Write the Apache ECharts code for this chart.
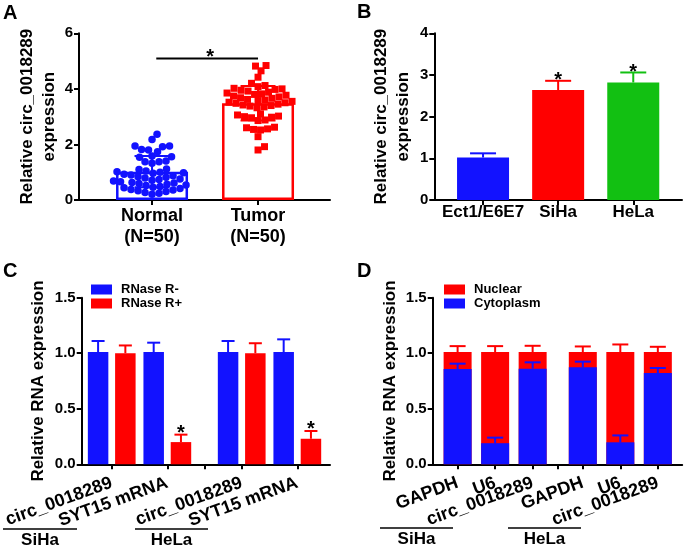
<!DOCTYPE html>
<html><head><meta charset="utf-8">
<script src="https://cdn.jsdelivr.net/npm/echarts@6/dist/echarts.min.js"></script>
<style>html,body{margin:0;padding:0;background:#fff}#c{width:685px;height:547px}</style>
</head><body><div id="c"></div>
<script>
// ---------------- DATA ----------------
// Panel A
const aCategories = ['Normal\n(N=50)', 'Tumor\n(N=50)'];
const aNormal = [0.21, 0.24, 0.27, 0.31, 0.33, 0.36, 0.38, 0.41, 0.44, 0.46, 0.49, 0.52, 0.54, 0.57, 0.59,
  0.61, 0.63, 0.66, 0.68, 0.71, 0.74, 0.76, 0.79, 0.82, 0.84, 0.87, 0.90, 0.93, 0.96, 0.98, 1.00, 1.02,
  1.04, 1.10, 1.12, 1.32, 1.38, 1.38, 1.40, 1.54, 1.56, 1.58, 1.74, 1.80, 1.82, 1.92, 1.94, 1.94, 2.18, 2.37];
const aTumor = [4.84, 4.82, 4.65, 4.42, 4.20, 4.12, 4.08, 4.02, 4.00, 3.98, 3.95, 3.92, 3.88, 3.85, 3.82,
  3.80, 3.77, 3.74, 3.71, 3.68, 3.66, 3.62, 3.60, 3.58, 3.55, 3.52, 3.50, 3.48, 3.45, 3.42, 3.40, 3.38,
  3.35, 3.32, 3.10, 3.06, 3.02, 3.00, 2.98, 2.96, 2.88, 2.86, 2.62, 2.60, 2.56, 2.54, 2.52, 2.28, 1.92, 1.80];
const aMean = [1.02, 3.48];
const aSD = [0.56, 0.62];
const aSig = { from: 0, to: 1, y: 5.09 };
const aYTicks = { min: 0, max: 6, interval: 2 };
// Panel B
const bCategories = ['Ect1/E6E7', 'SiHa', 'HeLa'];
const bValues = [1.02, 2.64, 2.82];
const bErr = [0.10, 0.22, 0.24];
const bSig = [0, 1, 1];
const bYTicks = { min: 0, max: 4, interval: 1 };
// Panel C
const cCategories = ['circ_0018289', 'SYT15 mRNA', 'circ_0018289', 'SYT15 mRNA'];
const cGroups = ['SiHa', 'HeLa'];
const cSeries = ['RNase R-', 'RNase R+'];
const cMinus = [1.01, 1.01, 1.01, 1.01];
const cMinusErr = [0.10, 0.085, 0.10, 0.115];
const cPlus = [1.00, 0.20, 1.00, 0.23];
const cPlusErr = [0.07, 0.067, 0.09, 0.07];
const cSig = [0, 1, 0, 1];
// Panel D
const dCategories = ['GAPDH', 'U6', 'circ_0018289', 'GAPDH', 'U6', 'circ_0018289'];
const dGroups = ['SiHa', 'HeLa'];
const dSeries = ['Nuclear', 'Cytoplasm'];
const dCyto = [0.858, 0.19, 0.861, 0.873, 0.198, 0.822];
const dCytoErr = [0.048, 0.05, 0.057, 0.051, 0.062, 0.045];
const dNuclear = [0.152, 0.82, 0.149, 0.137, 0.812, 0.188];
const dNucErr = [0.054, 0.054, 0.057, 0.051, 0.069, 0.048];
const cdYTicks = { min: 0, max: 1.5, interval: 0.5 };

// ---------------- STYLE / LAYOUT ----------------
const FONT = "'Liberation Sans', Arial, Helvetica, sans-serif";
const BLUE = '#1212ff', RED = '#ff0000', GREEN = '#12c012';
const W = 685, H = 547;
const grids = [
  { left: 79, right: 355, top: 33.3, bottom: 347 },
  { left: 434.3, right: 2, top: 33.3, bottom: 347 },
  { left: 81.7, right: 355, top: 297.7, bottom: 82.7 },
  { left: 432.7, right: 2, top: 297.7, bottom: 82.7 }
];
const xExt = [[-0.689, 1.679], [-0.649, 2.649], [-0.54, 3.926], [-0.664, 5.986]];

const aPos = aCategories.map((_, i) => i);
const bPos = bCategories.map((_, i) => i);
const cPos = cCategories.map((_, i) => i + Math.floor(i / 2) * 0.338);
const dPos = dCategories.map((_, i) => i + Math.floor(i / 3) * 0.337);
const cTicks = cPos.slice(0, 2).concat([(cPos[1] + cPos[2]) / 2], cPos.slice(2));
const dTicks = dPos.slice(0, 3).concat([(dPos[2] + dPos[3]) / 2], dPos.slice(3));
const dTotal = dCyto.map((v, i) => v + dNuclear[i]);

// beeswarm layout for panel A (pixel-space collision avoidance)
const gA = grids[0];
const pxX = (W - gA.left - gA.right) / (xExt[0][1] - xExt[0][0]);
const pxY = (H - gA.top - gA.bottom) / (aYTicks.max - aYTicks.min);
function swarm(values, center, sep) {
  const sorted = values.slice().sort((a, b) => a - b);
  const placed = [];
  sorted.forEach(v => {
    const y = v * pxY;
    let off = 0;
    for (let k = 0; k < 400; k++) {
      const o = (k % 2 === 1 ? 1 : -1) * Math.ceil(k / 2) * 0.5;
      if (placed.every(q => (q.x - o) * (q.x - o) + (q.y - y) * (q.y - y) >= sep * sep)) { off = o; break; }
    }
    placed.push({ x: off, y: y, v: v });
  });
  return placed.map(p => [center + p.x / pxX, p.v]);
}

// label values padded with empty end labels so no real label is auto-hidden
function padEnds(gi, pos) { return [xExt[gi][0]].concat(pos, [xExt[gi][1]]); }
function labelFor(pos, cats) {
  return function (v) {
    let best = 0;
    pos.forEach((p, i) => { if (Math.abs(p - v) < Math.abs(pos[best] - v)) best = i; });
    return Math.abs(pos[best] - v) < 0.05 ? cats[best] : '';
  };
}
const txt = { color: '#000', fontWeight: 'bold', fontFamily: FONT };
function xAxis(gi, tickVals, labelVals, fmt, extra) {
  return {
    type: 'value', gridIndex: gi, min: xExt[gi][0], max: xExt[gi][1], splitLine: { show: false },
    axisLine: { show: true, onZero: false, lineStyle: { color: '#000', width: 2 } },
    axisTick: { show: true, customValues: tickVals, length: 5, lineStyle: { color: '#000', width: 2 } },
    axisLabel: Object.assign({ customValues: padEnds(gi, labelVals), formatter: fmt, fontSize: 17, hideOverlap: false }, txt, extra)
  };
}
function yAxis(gi, t, name, gap, lh, dec) {
  return {
    type: 'value', gridIndex: gi, min: t.min, max: t.max, interval: t.interval, splitLine: { show: false },
    axisLine: { show: true, onZero: false, lineStyle: { color: '#000', width: 2 } },
    axisTick: { show: true, length: 5, lineStyle: { color: '#000', width: 2 } },
    axisLabel: Object.assign({ fontSize: 15, margin: 6, formatter: v => v.toFixed(dec) }, txt),
    name: name, nameLocation: 'middle', nameGap: gap,
    nameTextStyle: Object.assign({ fontSize: 17, lineHeight: lh }, txt)
  };
}
function errSeries(gi, data, opts) {
  return {
    type: 'custom', xAxisIndex: gi, yAxisIndex: gi, z: 6, silent: true,
    encode: { x: 0, y: [1, 2] }, data: data,
    renderItem: function (params, api) {
      const x = api.value(0), lo = api.value(1), hi = api.value(2), dx = api.value(3), sig = api.value(4), ci = api.value(5);
      const color = opts.colors[ci];
      const a = api.coord([x, lo]), b = api.coord([x, hi]);
      const cx = a[0] + dx, hw = opts.cap / 2;
      const st = { stroke: color, lineWidth: 2 };
      const ch = [
        { type: 'line', shape: { x1: cx, y1: a[1], x2: cx, y2: b[1] }, style: st },
        { type: 'line', shape: { x1: cx - hw, y1: b[1], x2: cx + hw, y2: b[1] }, style: st }
      ];
      if (opts.both) ch.push({ type: 'line', shape: { x1: cx - hw, y1: a[1], x2: cx + hw, y2: a[1] }, style: st });
      if (sig) ch.push({ type: 'text', style: { text: '*', x: cx, y: b[1] + opts.starDy, align: 'center', verticalAlign: 'middle', fill: '#000', font: 'bold 20px ' + FONT } });
      return { type: 'group', children: ch };
    }
  };
}

const cBarW = 20.5, cGapR = 0.33, cOff = cBarW * (1 + cGapR) / 2;
const aColors = [BLUE, RED], bColors = [BLUE, RED, GREEN];

const series = [
  // Panel A
  { type: 'bar', xAxisIndex: 0, yAxisIndex: 0, barWidth: 72, z: 2, silent: true,
    data: aPos.map((x, i) => ({ value: [x, aMean[i]], itemStyle: { color: '#fff', borderColor: aColors[i], borderWidth: 2.5 } })) },
  { type: 'scatter', xAxisIndex: 0, yAxisIndex: 0, z: 3, symbol: 'circle', symbolSize: 7.5, silent: true,
    itemStyle: { color: BLUE, opacity: 1 }, data: swarm(aNormal, aPos[0], 7) },
  { type: 'scatter', xAxisIndex: 0, yAxisIndex: 0, z: 3, symbol: 'rect', symbolSize: 7, silent: true,
    itemStyle: { color: RED, opacity: 1 }, data: swarm(aTumor, aPos[1], 7) },
  errSeries(0, aPos.map((x, i) => [x, aMean[i] - aSD[i], aMean[i] + aSD[i], 0, 0, i]), { colors: aColors, cap: 35, both: true, starDy: 0 }),
  { type: 'custom', xAxisIndex: 0, yAxisIndex: 0, z: 6, silent: true, encode: { x: [0, 1], y: 2 },
    data: [[aPos[aSig.from] + 0.04, aPos[aSig.to], aSig.y]],
    renderItem: function (params, api) {
      const p1 = api.coord([api.value(0), api.value(2)]), p2 = api.coord([api.value(1), api.value(2)]);
      return { type: 'group', children: [
        { type: 'line', shape: { x1: p1[0], y1: p1[1], x2: p2[0], y2: p2[1] }, style: { stroke: '#000', lineWidth: 2 } },
        { type: 'text', style: { text: '*', x: (p1[0] + p2[0]) / 2 + 3, y: p1[1] - 1, align: 'center', verticalAlign: 'middle', fill: '#000', font: 'bold 20px ' + FONT } }
      ] };
    } },
  // Panel B
  { type: 'bar', xAxisIndex: 1, yAxisIndex: 1, barWidth: 52, silent: true,
    data: bPos.map((x, i) => ({ value: [x, bValues[i]], itemStyle: { color: bColors[i] } })) },
  errSeries(1, bPos.map((x, i) => [x, bValues[i], bValues[i] + bErr[i], 0, bSig[i], i]), { colors: bColors, cap: 26, starDy: 0 }),
  // Panel C
  { name: cSeries[0], type: 'bar', xAxisIndex: 2, yAxisIndex: 2, barWidth: cBarW, barGap: (cGapR * 100) + '%', silent: true,
    itemStyle: { color: BLUE }, data: cPos.map((x, i) => [x, cMinus[i]]) },
  { name: cSeries[1], type: 'bar', xAxisIndex: 2, yAxisIndex: 2, barWidth: cBarW, barGap: (cGapR * 100) + '%', silent: true,
    itemStyle: { color: RED }, data: cPos.map((x, i) => [x, cPlus[i]]) },
  errSeries(2, cPos.map((x, i) => [x, cMinus[i], cMinus[i] + cMinusErr[i], -cOff, 0, 0])
    .concat(cPos.map((x, i) => [x, cPlus[i], cPlus[i] + cPlusErr[i], cOff, cSig[i], 1])), { colors: [BLUE, RED], cap: 13, starDy: -1 }),
  // Panel D (nuclear segment on top of cytoplasm: total drawn behind the cytoplasm bar)
  { name: dSeries[0], type: 'bar', xAxisIndex: 3, yAxisIndex: 3, barWidth: 28, barGap: '-100%', z: 2, silent: true,
    itemStyle: { color: RED }, data: dPos.map((x, i) => [x, dTotal[i]]) },
  { name: dSeries[1], type: 'bar', xAxisIndex: 3, yAxisIndex: 3, barWidth: 28, barGap: '-100%', z: 3, silent: true,
    itemStyle: { color: BLUE }, data: dPos.map((x, i) => [x, dCyto[i]]) },
  errSeries(3, dPos.map((x, i) => [x, dTotal[i], dTotal[i] + dNucErr[i], 0, 0, 1])
    .concat(dPos.map((x, i) => [x, dCyto[i], dCyto[i] + dCytoErr[i], 0, 0, 0])), { colors: [BLUE, RED], cap: 16, starDy: 0 })
];

const legendBase = { orient: 'vertical', itemWidth: 21, itemHeight: 10, itemGap: 1, icon: 'rect', padding: 0,
  textStyle: Object.assign({ fontSize: 13, padding: [0, 0, 0, 4] }, txt) };

function groupGraphic(x1, x2, y, label) {
  return [
    { type: 'line', shape: { x1: x1, y1: y, x2: x2, y2: y }, style: { stroke: '#000', lineWidth: 1.5 } },
    { type: 'text', x: (x1 + x2) / 2, y: y + 11, style: { text: label, align: 'center', verticalAlign: 'middle', fill: '#000', font: 'bold 17px ' + FONT } }
  ];
}
const letters = [['A', 3, 13], ['B', 357, 12], ['C', 3, 271], ['D', 357, 271]];

const option = {
  animation: false,
  backgroundColor: '#fff',
  grid: grids,
  xAxis: [
    xAxis(0, aPos, aPos, labelFor(aPos, aCategories), { fontSize: 18, lineHeight: 21, margin: 6 }),
    xAxis(1, bPos, bPos, labelFor(bPos, bCategories), { margin: 4 }),
    xAxis(2, cTicks, cPos, labelFor(cPos, cCategories), { rotate: 20, margin: 18, fontSize: 18 }),
    xAxis(3, dTicks, dPos, labelFor(dPos, dCategories), { rotate: 20, margin: 18, fontSize: 18 })
  ],
  yAxis: [
    yAxis(0, aYTicks, 'Relative circ_0018289\nexpression', 19, 22, 0),
    yAxis(1, bYTicks, 'Relative circ_0018289\nexpression', 20, 22, 0),
    yAxis(2, cdYTicks, 'Relative RNA expression', 33, 20, 1),
    yAxis(3, cdYTicks, 'Relative RNA expression', 32, 20, 1)
  ],
  legend: [
    Object.assign({ left: 91, top: 283, data: cSeries }, legendBase),
    Object.assign({ left: 444, top: 283, data: dSeries }, legendBase)
  ],
  series: series,
  graphic: [].concat(
    groupGraphic(3, 77, 529, cGroups[0]), groupGraphic(135, 208, 529, cGroups[1]),
    groupGraphic(380, 453, 528, dGroups[0]), groupGraphic(508, 581, 528, dGroups[1]),
    letters.map(l => ({ type: 'text', x: l[1], y: l[2], style: { text: l[0], fill: '#000', font: 'bold 20px ' + FONT, verticalAlign: 'middle' } }))
  )
};
const chart = echarts.init(document.getElementById('c'), null, { renderer: 'canvas' });
chart.setOption(option);
</script></body></html>
